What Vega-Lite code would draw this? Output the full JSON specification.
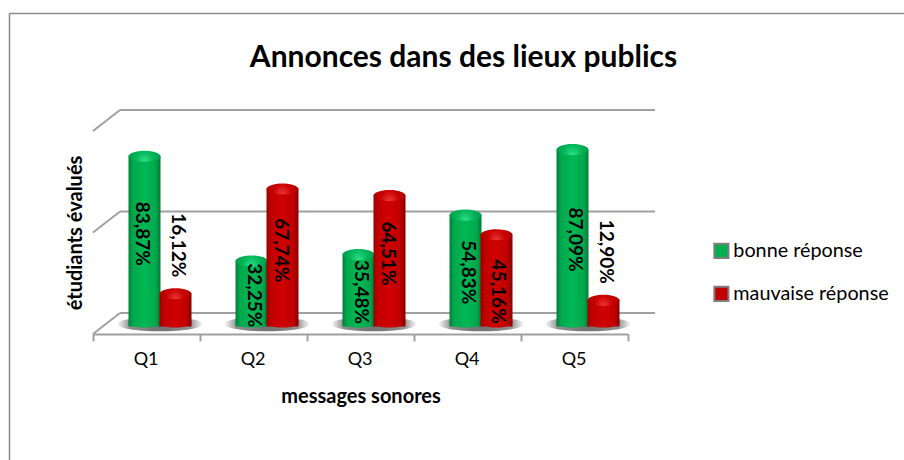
{
"$schema":"https://vega.github.io/schema/vega-lite/v6.json",
"width":535,"height":203,
"autosize":"none",
"padding":{"left":93,"top":131,"right":276,"bottom":126},
"background":"white",
"config":{"view":{"stroke":null},"font":"Lato"},
"title":{"text":"Annonces dans des lieux publics","font":"Lato","fontSize":30,"fontWeight":"bold","color":"#000000","anchor":"middle","dx":103,"offset":-60},
"datasets":{
"main":[
{"q":"Q1","s":"bonne réponse","v":83.87,"t":"83,87%"},
{"q":"Q2","s":"bonne réponse","v":32.25,"t":"32,25%"},
{"q":"Q3","s":"bonne réponse","v":35.48,"t":"35,48%"},
{"q":"Q4","s":"bonne réponse","v":54.83,"t":"54,83%"},
{"q":"Q5","s":"bonne réponse","v":87.09,"t":"87,09%"},
{"q":"Q1","s":"mauvaise réponse","v":16.12,"t":"16,12%"},
{"q":"Q2","s":"mauvaise réponse","v":67.74,"t":"67,74%"},
{"q":"Q3","s":"mauvaise réponse","v":64.51,"t":"64,51%"},
{"q":"Q4","s":"mauvaise réponse","v":45.16,"t":"45,16%"},
{"q":"Q5","s":"mauvaise réponse","v":12.9,"t":"12,90%"}
],
"diag":[
{"d":0,"d2":1,"g":0,"g2":10.35},{"d":0,"d2":1,"g":50,"g2":60.35},{"d":0,"d2":1,"g":100,"g2":110.35},
{"d":1,"d2":20.81,"g":10.35,"g2":10.35},{"d":1,"d2":20.81,"g":60.35,"g2":60.35},{"d":1,"d2":20.81,"g":110.35,"g2":110.35}
],
"frame":[{"a":0,"a2":1,"b":0,"b2":0},{"a":0,"a2":0,"b":0,"b2":1}]
},
"resolve":{"scale":{"x":"independent","y":"independent"}},
"layer":[
{"data":{"name":"frame"},
 "mark":{"type":"rule","color":"#8c8c8c","strokeWidth":1.5},
 "encoding":{
  "x":{"field":"a","type":"quantitative","axis":null,"scale":{"domain":[0,1],"range":[-83.5,811]}},
  "x2":{"field":"a2"},
  "y":{"field":"b","type":"quantitative","axis":null,"scale":{"domain":[0,1],"range":[-117.5,329]}},
  "y2":{"field":"b2"}}},
{"resolve":{"scale":{"x":"independent"}},
 "layer":[
 {"data":{"name":"diag"},
  "mark":{"type":"rule","color":"#a0a0a0","strokeWidth":2},
  "encoding":{
   "x":{"field":"d","type":"quantitative","axis":null,"scale":{"domain":[0,19.81],"range":[0,535]}},
   "x2":{"field":"d2"},
   "y":{"field":"g","type":"quantitative","scale":{"domain":[0,100],"range":[203,0]},
     "axis":{"title":"étudiants évalués","labels":false,"ticks":false,"domain":false,"grid":false,"titleFont":"Lato","titleFontSize":20,"titleFontWeight":"bold","titleColor":"#000000","titlePadding":8}},
   "y2":{"field":"g2"}}},
 {"layer":[
  {"data":{"name":"main"},
   "transform":[{"filter":"datum.s==='bonne réponse'"}],
   "mark":{"type":"point","filled":true,"opacity":1,"shape":"M-1,0A1,0.17 0 1,0 1,0A1,0.17 0 1,0 -1,0Z","size":7400,"xOffset":13.5,"yOffset":-10,
     "color":{"gradient":"radial","x1":0.5,"y1":0.5,"r1":0,"x2":0.5,"y2":0.5,"r2":0.5,"stops":[{"offset":0,"color":"#6e6e6e"},{"offset":0.7,"color":"#8f8f8f"},{"offset":1,"color":"#ffffff"}]}},
   "encoding":{"x":{"field":"q","type":"nominal"},"y":{"datum":0,"type":"quantitative"}}},
  {"data":{"name":"main"},
   "transform":[{"filter":"datum.s==='bonne réponse'"}],
   "mark":{"type":"bar","width":32,"xOffset":-2,"yOffset":-7.5,"y2Offset":-12,
     "color":{"gradient":"linear","x1":0,"y1":0,"x2":1,"y2":0,"stops":[{"offset":0,"color":"#00803a"},{"offset":0.14,"color":"#00a84c"},{"offset":0.5,"color":"#00b854"},{"offset":0.85,"color":"#00a84c"},{"offset":1,"color":"#007a36"}]}},
   "encoding":{"x":{"field":"q","type":"nominal","scale":{"padding":0},
     "axis":{"title":"messages sonores","labelAngle":0,"labelFont":"Lato","labelFontSize":18,"labelColor":"#000000","labelPadding":18,"labelOffset":11.5,"tickBand":"extent","tickSize":7,"tickColor":"#a0a0a0","tickWidth":2,"domainColor":"#a0a0a0","domainWidth":2,"grid":false,"titleFont":"Lato","titleFontSize":20,"titleFontWeight":"bold","titleColor":"#000000","titlePadding":18}},
     "y":{"field":"v","type":"quantitative"}}},
  {"data":{"name":"main"},
   "transform":[{"filter":"datum.s==='bonne réponse'"}],
   "mark":{"type":"point","filled":true,"opacity":1,"shape":"M-1,0A1,0.35 0 1,0 1,0A1,0.35 0 1,0 -1,0Z","size":1024,"xOffset":-2,"yOffset":-12,
     "color":{"gradient":"linear","x1":0,"y1":0,"x2":1,"y2":0,"stops":[{"offset":0,"color":"#00803a"},{"offset":0.14,"color":"#00a84c"},{"offset":0.5,"color":"#00b854"},{"offset":0.85,"color":"#00a84c"},{"offset":1,"color":"#007a36"}]}},
   "encoding":{"x":{"field":"q","type":"nominal"},"y":{"datum":0,"type":"quantitative"}}},
  {"data":{"name":"main"},
   "transform":[{"filter":"datum.s==='bonne réponse'"}],
   "mark":{"type":"point","filled":true,"opacity":1,"shape":"M-1,0A1,0.35 0 1,0 1,0A1,0.35 0 1,0 -1,0Z","size":1024,"xOffset":-2,"yOffset":-7.5,
     "color":{"gradient":"radial","x1":0.5,"y1":0.7,"r1":0,"x2":0.5,"y2":0.5,"r2":0.55,"stops":[{"offset":0,"color":"#35e28c"},{"offset":0.5,"color":"#00b558"},{"offset":1,"color":"#00964a"}]}},
   "encoding":{"x":{"field":"q","type":"nominal"},"y":{"field":"v","type":"quantitative"}}},
  {"data":{"name":"main"},
   "transform":[{"filter":"datum.s==='mauvaise réponse'"}],
   "mark":{"type":"bar","width":32,"xOffset":29,"yOffset":-7.5,"y2Offset":-12,
     "color":{"gradient":"linear","x1":0,"y1":0,"x2":1,"y2":0,"stops":[{"offset":0,"color":"#9a0000"},{"offset":0.14,"color":"#c00000"},{"offset":0.5,"color":"#d00000"},{"offset":0.85,"color":"#bd0000"},{"offset":1,"color":"#880000"}]}},
   "encoding":{"x":{"field":"q","type":"nominal"},"y":{"field":"v","type":"quantitative"}}},
  {"data":{"name":"main"},
   "transform":[{"filter":"datum.s==='mauvaise réponse'"}],
   "mark":{"type":"point","filled":true,"opacity":1,"shape":"M-1,0A1,0.35 0 1,0 1,0A1,0.35 0 1,0 -1,0Z","size":1024,"xOffset":29,"yOffset":-12,
     "color":{"gradient":"linear","x1":0,"y1":0,"x2":1,"y2":0,"stops":[{"offset":0,"color":"#9a0000"},{"offset":0.14,"color":"#c00000"},{"offset":0.5,"color":"#d00000"},{"offset":0.85,"color":"#bd0000"},{"offset":1,"color":"#880000"}]}},
   "encoding":{"x":{"field":"q","type":"nominal"},"y":{"datum":0,"type":"quantitative"}}},
  {"data":{"name":"main"},
   "transform":[{"filter":"datum.s==='mauvaise réponse'"}],
   "mark":{"type":"point","filled":true,"opacity":1,"shape":"M-1,0A1,0.35 0 1,0 1,0A1,0.35 0 1,0 -1,0Z","size":1024,"xOffset":29,"yOffset":-7.5,
     "color":{"gradient":"radial","x1":0.5,"y1":0.7,"r1":0,"x2":0.5,"y2":0.5,"r2":0.55,"stops":[{"offset":0,"color":"#f03a3a"},{"offset":0.5,"color":"#c80000"},{"offset":1,"color":"#a80000"}]}},
   "encoding":{"x":{"field":"q","type":"nominal"},"y":{"field":"v","type":"quantitative"}}},
  {"data":{"name":"main"},
   "transform":[{"filter":"datum.s==='bonne réponse' && datum.q==='Q1'"},{"calculate":"datum.v/2","as":"mid"}],
   "mark":{"type":"text","angle":90,"font":"Lato","fontSize":19,"fontWeight":"bold","color":"#000000","baseline":"middle","align":"center","xOffset":-5,"yOffset":-15},
   "encoding":{"x":{"field":"q","type":"nominal"},"y":{"field":"mid","type":"quantitative"},"text":{"field":"t"}}},
  {"data":{"name":"main"},
   "transform":[{"filter":"datum.s==='bonne réponse' && datum.q!=='Q1'"},{"calculate":"datum.v/2","as":"mid"}],
   "mark":{"type":"text","angle":90,"font":"Lato","fontSize":19,"fontWeight":"bold","color":"#000000","baseline":"middle","align":"center","xOffset":0,"yOffset":-6},
   "encoding":{"x":{"field":"q","type":"nominal"},"y":{"field":"mid","type":"quantitative"},"text":{"field":"t"}}},
  {"data":{"name":"main"},
   "transform":[{"filter":"datum.s==='mauvaise réponse' && (datum.q==='Q2' || datum.q==='Q3')"},{"calculate":"datum.v/2","as":"mid"}],
   "mark":{"type":"text","angle":90,"font":"Lato","fontSize":19,"fontWeight":"bold","color":"#000000","baseline":"middle","align":"center","xOffset":27,"yOffset":-15},
   "encoding":{"x":{"field":"q","type":"nominal"},"y":{"field":"mid","type":"quantitative"},"text":{"field":"t"}}},
  {"data":{"name":"main"},
   "transform":[{"filter":"datum.s==='mauvaise réponse' && datum.q==='Q4'"},{"calculate":"datum.v/2","as":"mid"}],
   "mark":{"type":"text","angle":90,"font":"Lato","fontSize":19,"fontWeight":"bold","color":"#000000","baseline":"middle","align":"center","xOffset":30,"yOffset":3.5},
   "encoding":{"x":{"field":"q","type":"nominal"},"y":{"field":"mid","type":"quantitative"},"text":{"field":"t"}}},
  {"data":{"name":"main"},
   "transform":[{"filter":"datum.s==='mauvaise réponse' && datum.v<20"}],
   "mark":{"type":"text","angle":90,"font":"Lato","fontSize":19,"fontWeight":"bold","color":"#000000","baseline":"middle","align":"right","xOffset":31,"yOffset":-24},
   "encoding":{"x":{"field":"q","type":"nominal"},"y":{"field":"v","type":"quantitative"},"text":{"field":"t"}}},
  {"data":{"name":"main"},
   "mark":{"type":"point","filled":true,"opacity":0},
   "encoding":{"x":{"field":"q","type":"nominal"},"y":{"field":"v","type":"quantitative"},
    "color":{"field":"s","type":"nominal","scale":{"domain":["bonne réponse","mauvaise réponse"],"range":["#00b050","#c00000"]},
     "legend":{"title":null,"orient":"none","legendX":618.5,"legendY":110,"symbolType":"square","symbolSize":200,"symbolOpacity":1,"symbolStrokeColor":"#7f7f7f","symbolStrokeWidth":2,"labelFont":"Lato","labelFontSize":19.8,"labelColor":"#000000","labelOffset":2,"rowPadding":20}}}}
 ]}
 ]}
]
}
